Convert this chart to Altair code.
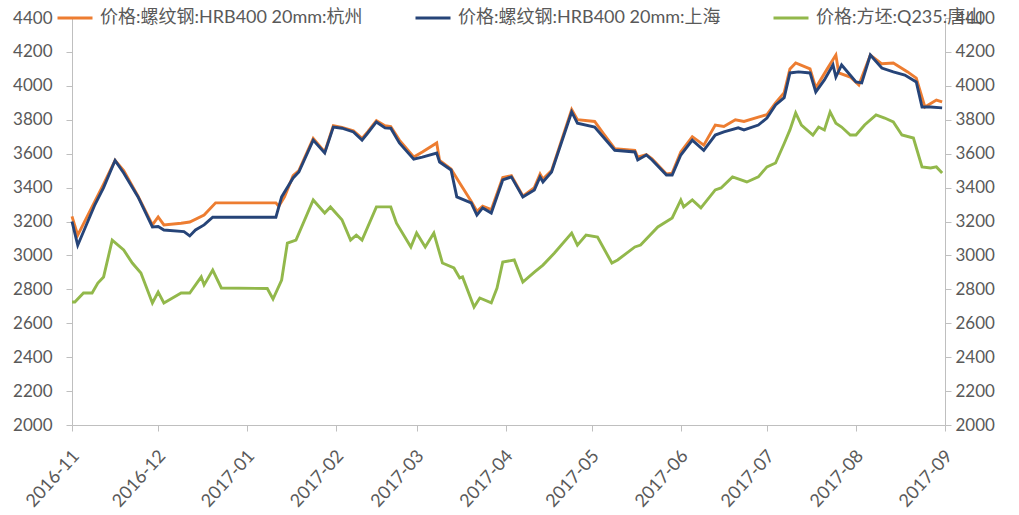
import altair as alt
import pandas as pd

# ---- data ----
hz_dates = ["2016-11-01","2016-11-03","2016-11-09","2016-11-12","2016-11-16","2016-11-19","2016-11-24","2016-11-29",
            "2016-12-01","2016-12-03","2016-12-09","2016-12-12","2016-12-17","2016-12-21","2017-01-11","2017-01-12",
            "2017-01-14","2017-01-17","2017-01-19","2017-01-24","2017-01-28","2017-01-31","2017-02-03","2017-02-07",
            "2017-02-10","2017-02-12","2017-02-15","2017-02-18","2017-02-20","2017-02-23","2017-02-28","2017-03-03",
            "2017-03-08","2017-03-09","2017-03-13","2017-03-16","2017-03-20","2017-03-22","2017-03-24","2017-03-27",
            "2017-03-31","2017-04-03","2017-04-07","2017-04-11","2017-04-13","2017-04-14","2017-04-17","2017-04-24",
            "2017-04-26","2017-05-02","2017-05-05","2017-05-09","2017-05-16","2017-05-17","2017-05-20","2017-05-22",
            "2017-05-27","2017-05-29","2017-06-01","2017-06-05","2017-06-09","2017-06-13","2017-06-16","2017-06-20",
            "2017-06-23","2017-06-28","2017-07-01","2017-07-04","2017-07-07","2017-07-09","2017-07-11","2017-07-16",
            "2017-07-18","2017-07-22","2017-07-25","2017-07-26","2017-07-30","2017-08-02","2017-08-06","2017-08-10",
            "2017-08-14","2017-08-19","2017-08-22","2017-08-25","2017-08-29","2017-08-31"]
hz_values = [3230,3120,3320,3420,3560,3500,3350,3180,
             3227,3180,3190,3197,3238,3310,3310,3290,
             3345,3470,3500,3690,3610,3765,3755,3735,
             3690,3730,3795,3765,3760,3680,3580,3610,
             3663,3560,3510,3427,3320,3260,3290,3270,
             3460,3470,3350,3400,3480,3450,3500,3860,
             3800,3790,3720,3630,3620,3580,3595,3570,
             3480,3485,3610,3700,3650,3769,3760,3800,
             3790,3816,3830,3900,3960,4100,4135,4100,
             3988,4100,4182,4076,4052,4005,4182,4130,
             4135,4082,4046,3875,3916,3905]

sh_dates = ["2016-11-01","2016-11-03","2016-11-09","2016-11-12","2016-11-16","2016-11-19","2016-11-24","2016-11-29",
            "2016-12-01","2016-12-03","2016-12-10","2016-12-12","2016-12-14","2016-12-17","2016-12-20","2017-01-11",
            "2017-01-13","2017-01-17","2017-01-19","2017-01-24","2017-01-28","2017-01-31","2017-02-03","2017-02-07",
            "2017-02-10","2017-02-12","2017-02-15","2017-02-18","2017-02-20","2017-02-23","2017-02-28","2017-03-03",
            "2017-03-08","2017-03-09","2017-03-13","2017-03-15","2017-03-20","2017-03-22","2017-03-24","2017-03-27",
            "2017-03-31","2017-04-03","2017-04-07","2017-04-11","2017-04-13","2017-04-14","2017-04-17","2017-04-24",
            "2017-04-26","2017-05-02","2017-05-05","2017-05-09","2017-05-16","2017-05-17","2017-05-20","2017-05-22",
            "2017-05-27","2017-05-29","2017-06-01","2017-06-05","2017-06-09","2017-06-13","2017-06-16","2017-06-21",
            "2017-06-23","2017-06-28","2017-07-01","2017-07-04","2017-07-07","2017-07-09","2017-07-12","2017-07-16",
            "2017-07-18","2017-07-21","2017-07-24","2017-07-25","2017-07-27","2017-08-01","2017-08-03","2017-08-06",
            "2017-08-10","2017-08-14","2017-08-18","2017-08-22","2017-08-24","2017-08-27","2017-08-31"]
sh_values = [3200,3060,3300,3400,3560,3486,3345,3168,
             3170,3150,3140,3115,3150,3180,3225,3225,
             3345,3457,3492,3680,3604,3757,3750,3728,
             3680,3722,3787,3752,3750,3663,3568,3580,
             3604,3551,3504,3345,3310,3238,3280,3250,
             3445,3463,3345,3386,3463,3433,3492,3846,
             3780,3757,3698,3620,3610,3563,3592,3563,
             3474,3474,3592,3680,3620,3710,3728,3752,
             3740,3769,3810,3887,3930,4076,4082,4076,
             3964,4035,4123,4052,4123,4023,4017,4182,
             4105,4082,4064,4023,3875,3875,3870]

ts_dates = ["2016-11-01","2016-11-02","2016-11-05","2016-11-08","2016-11-10","2016-11-12","2016-11-15","2016-11-19",
            "2016-11-22","2016-11-25","2016-11-29","2016-12-01","2016-12-03","2016-12-09","2016-12-12","2016-12-16",
            "2016-12-17","2016-12-20","2016-12-23","2017-01-08","2017-01-10","2017-01-13","2017-01-15","2017-01-18",
            "2017-01-24","2017-01-28","2017-01-30","2017-02-03","2017-02-06","2017-02-08","2017-02-10","2017-02-15",
            "2017-02-20","2017-02-22","2017-02-27","2017-03-01","2017-03-04","2017-03-07","2017-03-10","2017-03-14",
            "2017-03-16","2017-03-17","2017-03-21","2017-03-23","2017-03-27","2017-03-29","2017-03-31","2017-04-04",
            "2017-04-07","2017-04-11","2017-04-14","2017-04-18","2017-04-24","2017-04-26","2017-04-29","2017-05-03",
            "2017-05-08","2017-05-10","2017-05-16","2017-05-18","2017-05-24","2017-05-29","2017-06-01","2017-06-02",
            "2017-06-05","2017-06-08","2017-06-13","2017-06-15","2017-06-19","2017-06-24","2017-06-28","2017-07-01",
            "2017-07-04","2017-07-07","2017-07-09","2017-07-11","2017-07-13","2017-07-17","2017-07-19","2017-07-21",
            "2017-07-23","2017-07-25","2017-07-27","2017-07-30","2017-08-01","2017-08-04","2017-08-08","2017-08-11",
            "2017-08-14","2017-08-17","2017-08-21","2017-08-24","2017-08-27","2017-08-29","2017-08-31"]
ts_values = [2725,2725,2778,2778,2837,2873,3090,3032,
             2955,2896,2720,2784,2720,2778,2778,2873,
             2826,2914,2808,2805,2743,2855,3073,3090,
             3327,3250,3286,3210,3090,3120,3090,3286,
             3286,3190,3050,3132,3050,3132,2955,2926,
             2867,2873,2696,2749,2720,2808,2961,2973,
             2843,2902,2943,3014,3132,3061,3120,3108,
             2955,2973,3050,3061,3168,3221,3327,3286,
             3327,3280,3386,3398,3463,3433,3463,3522,
             3545,3660,3740,3840,3769,3710,3757,3740,
             3846,3780,3757,3710,3710,3769,3828,3810,
             3787,3710,3692,3522,3516,3522,3486]

series_names = ["价格:螺纹钢:HRB400 20mm:杭州", "价格:螺纹钢:HRB400 20mm:上海", "价格:方坯:Q235:唐山"]
series_colors = ["#ED7D31", "#264478", "#92B84B"]
y_ticks = [2000, 2200, 2400, 2600, 2800, 3000, 3200, 3400, 3600, 3800, 4000, 4200, 4400]
month_ticks = [(2016, 11), (2016, 12), (2017, 1), (2017, 2), (2017, 3), (2017, 4),
               (2017, 5), (2017, 6), (2017, 7), (2017, 8), (2017, 9)]

df = pd.concat([
    pd.DataFrame({"date": hz_dates, "value": hz_values, "series": series_names[0]}),
    pd.DataFrame({"date": sh_dates, "value": sh_values, "series": series_names[1]}),
    pd.DataFrame({"date": ts_dates, "value": ts_values, "series": series_names[2]}),
], ignore_index=True)

FONT = "Lato, Noto Sans CJK SC"
AXIS_COLOR = "#BFBFBF"
LABEL_COLOR = "#595959"

x_enc = alt.X(
    "date:T",
    scale=alt.Scale(type="utc",
                    domain=[alt.DateTime(year=2016, month=11, date=1, utc=True),
                            alt.DateTime(year=2017, month=9, date=1, utc=True)]),
    axis=alt.Axis(
        values=[alt.DateTime(year=y, month=m, date=1, utc=True) for y, m in month_ticks],
        labelExpr="utcFormat(datum.value, '%Y-%m')",
        labelAngle=-48, labelAlign="right", labelOffset=4,
        labelBaseline="middle", labelPadding=22, labelFontSize=18, labelFont=FONT,
        labelColor=LABEL_COLOR, domainColor=AXIS_COLOR, tickColor=AXIS_COLOR,
        tickSize=6, grid=False, title=None, labelOverlap=False, labelFlush=False),
)

y_scale = alt.Scale(domain=[2000, 4400], nice=False, zero=False)
color_enc = alt.Color(
    "series:N",
    scale=alt.Scale(domain=series_names, range=series_colors),
    legend=alt.Legend(
        title=None, orient="none", direction="horizontal", legendX=-16, legendY=-19,
        symbolType="stroke", symbolSize=1225, symbolStrokeWidth=3,
        labelFont=FONT, labelFontSize=18, labelColor=LABEL_COLOR, labelOffset=6,
        columnPadding=46, labelLimit=400),
)

def y_axis(orient, pad):
    return alt.Axis(values=y_ticks, orient=orient, grid=False, title=None, format="d",
                    labelFontSize=17, labelFont=FONT, labelColor=LABEL_COLOR,
                    domainColor=AXIS_COLOR, tickColor=AXIS_COLOR, tickSize=6, labelPadding=pad)

def line_layer(name):
    return alt.Chart(df).transform_filter(alt.datum.series == name).mark_line(
        strokeWidth=2.9, interpolate="linear"
    ).encode(x=x_enc, y=alt.Y("value:Q", scale=y_scale, axis=y_axis("left", 14)), color=color_enc)

left = alt.layer(
    line_layer(series_names[2]),
    line_layer(series_names[0]),
    line_layer(series_names[1]),
)
right_axis = alt.Chart(df).mark_line(opacity=0).encode(
    x=x_enc,
    y=alt.Y("value:Q", scale=y_scale, axis=y_axis("right", 4)),
    detail="series:N",
)

chart = alt.layer(left, right_axis).resolve_scale(y="independent").properties(
    width=873, height=407,
    autosize=alt.AutoSizeParams(type="none"),
    padding={"left": 72, "top": 18, "right": 74, "bottom": 90},
    background="white",
).configure_view(stroke=None)

chart.save("out.html", embed_options={"renderer": "svg", "actions": False})
